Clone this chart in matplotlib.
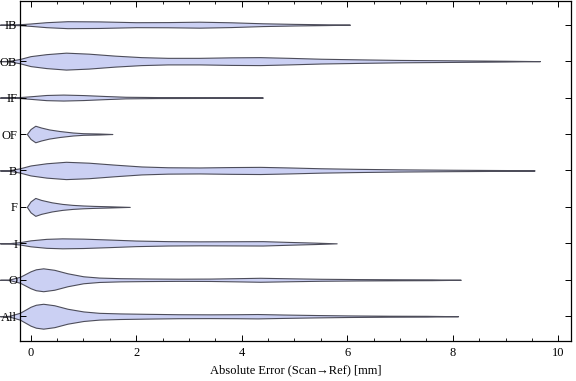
import matplotlib
matplotlib.use("Agg")
import matplotlib.pyplot as plt
from matplotlib.ticker import MultipleLocator

plt.rcParams['font.family'] = ['Liberation Serif', 'DejaVu Serif']

# categories, bottom to top
labels = ['All', 'O', 'I', 'F', 'B', 'OF', 'IF', 'OB', 'IB']

# violin outlines: error (mm) and half-width (px at 36.6 px per row)
all_x = [-0.58, -0.4, -0.2, 0.0, 0.1, 0.24, 0.45, 0.7, 1.0, 1.3, 1.7, 2.2, 2.8, 3.4, 3.9, 4.3, 4.8, 5.4, 6.0, 6.8, 7.5, 8.1]
all_w = [0, 0.4, 3.5, 9.5, 11.5, 12.5, 11.0, 7.5, 4.8, 3.4, 2.8, 2.4, 2.0, 1.9, 2.0, 2.2, 1.7, 1.2, 0.8, 0.5, 0.4, 0]
o_x = [-0.58, -0.4, -0.2, 0.0, 0.1, 0.24, 0.45, 0.7, 1.0, 1.3, 1.7, 2.2, 2.8, 3.4, 3.9, 4.35, 4.9, 5.5, 6.2, 7.0, 7.6, 8.15]
o_w = [0, 0.3, 3.0, 8.5, 10.5, 11.5, 10.0, 6.5, 3.5, 2.2, 1.6, 1.3, 1.1, 1.2, 1.6, 2.0, 1.5, 1.0, 0.7, 0.5, 0.4, 0]
i_x = [-0.58, -0.4, -0.2, 0.0, 0.3, 0.6, 1.0, 1.5, 2.0, 2.6, 3.2, 3.8, 4.4, 4.9, 5.4, 5.8]
i_w = [0, 0.2, 1.2, 3.0, 4.5, 5.0, 4.7, 3.8, 2.8, 2.2, 2.0, 2.1, 2.2, 1.4, 0.7, 0]
f_x = [-0.07, 0.0, 0.09, 0.2, 0.4, 0.6, 0.8, 1.0, 1.2, 1.5, 1.88]
f_w = [0, 5.5, 9.0, 7.0, 4.6, 3.0, 2.0, 1.4, 1.0, 0.6, 0]
b_x = [-0.58, -0.4, -0.2, 0.0, 0.3, 0.67, 1.1, 1.6, 2.1, 2.6, 3.2, 3.8, 4.35, 4.9, 5.5, 6.2, 7.0, 8.0, 9.0, 9.55]
b_w = [0, 0.3, 2.2, 5.0, 7.2, 8.7, 7.8, 5.8, 4.0, 3.2, 3.0, 3.4, 3.6, 3.0, 2.2, 1.6, 1.1, 0.7, 0.4, 0]
of_x = [-0.07, 0.0, 0.09, 0.2, 0.35, 0.55, 0.8, 1.0, 1.3, 1.55]
of_w = [0, 5.0, 8.3, 6.5, 4.6, 3.0, 1.5, 0.8, 0.5, 0]
if_x = [-0.58, -0.4, -0.2, 0.0, 0.3, 0.62, 1.0, 1.4, 1.8, 2.4, 3.2, 4.0, 4.4]
if_w = [0, 0.2, 0.5, 1.3, 2.6, 3.0, 2.5, 1.6, 0.8, 0.5, 0.4, 0.3, 0]
ob_x = [-0.58, -0.4, -0.2, 0.0, 0.3, 0.67, 1.1, 1.6, 2.1, 2.6, 3.2, 3.8, 4.35, 4.9, 5.5, 6.2, 7.0, 8.0, 9.0, 9.65]
ob_w = [0, 0.3, 2.2, 5.0, 7.0, 8.5, 7.5, 5.5, 4.0, 3.3, 3.3, 3.8, 4.0, 3.3, 2.4, 1.8, 1.2, 0.8, 0.4, 0]
ib_x = [-0.58, -0.4, -0.2, 0.0, 0.3, 0.7, 1.3, 2.0, 2.6, 3.2, 3.8, 4.4, 5.0, 5.6, 6.05]
ib_w = [0, 0.2, 0.5, 1.2, 2.5, 3.5, 3.3, 2.5, 2.6, 3.0, 2.4, 1.4, 0.8, 0.4, 0]

outlines = [(all_x, all_w), (o_x, o_w), (i_x, i_w), (f_x, f_w), (b_x, b_w),
            (of_x, of_w), (if_x, if_w), (ob_x, ob_w), (ib_x, ib_w)]

px = 1 / 36.6  # one pixel in row units

fig = plt.figure(figsize=(5.76, 3.81), dpi=100)
ax = fig.add_axes([20 / 576, 1 - 341 / 381, 551 / 576, 340 / 381])
ax.set_axisbelow(False)  # labels over the tails

for k, (xs, ws) in enumerate(outlines):
    y0 = k + 1
    lo = [y0 - w * px for w in ws]
    hi = [y0 + w * px for w in ws]
    # tails poke out past the left spine, as in the original
    ax.fill_between(xs, lo, hi, facecolor='#cbd0f3', edgecolor='#4d4d5a',
                    linewidth=0.8, clip_on=False, zorder=2)

ax.set_xlim(-0.2, 10.24)
ax.set_ylim(0.32, 9.65)
ax.set_yticks(range(1, len(labels) + 1))
ax.set_yticklabels(labels)
ax.xaxis.set_major_locator(MultipleLocator(2))
ax.xaxis.set_minor_locator(MultipleLocator(0.5))
ax.tick_params(axis='x', which='major', direction='in', length=4, width=0.7,
               top=True, labelsize=9, pad=4)
ax.tick_params(axis='x', which='minor', direction='in', length=2.5, width=0.6, top=True)
ax.tick_params(axis='y', which='major', direction='in', length=4, width=0.7,
               right=True, labelsize=9, pad=2)
for s in ax.spines.values():
    s.set_linewidth(0.9)
    s.set_zorder(3)
ax.set_xlabel('Absolute Error (Scan\u2192Ref) [mm]', fontsize=9, labelpad=4)

fig.savefig('out.png', dpi=100)
